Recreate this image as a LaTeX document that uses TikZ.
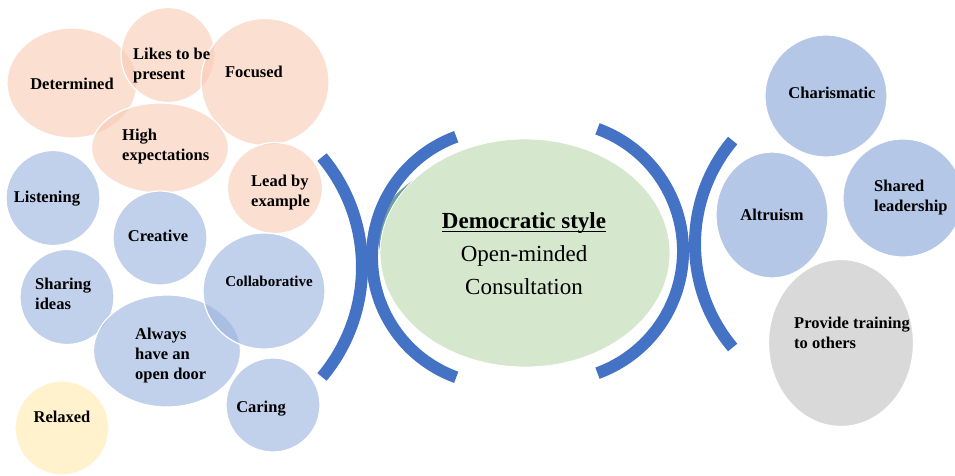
\documentclass[tikz,border=0pt]{standalone}
\usepackage{fontspec}
\setmainfont{Liberation Serif}
\usetikzlibrary{shapes.geometric}
\definecolor{peachb}{RGB}{248,203,180}
\definecolor{blueb}{RGB}{152,177,222}
\definecolor{blueR}{RGB}{130,162,215}
\definecolor{yellowb}{RGB}{255,233,170}
\definecolor{grayb}{RGB}{192,192,192}
\definecolor{greenc}{RGB}{213,231,204}
\definecolor{tealc}{RGB}{110,160,160}
\definecolor{arcblue}{RGB}{68,114,196}
\newlength\myulw
\newcommand\myul[1]{\settowidth\myulw{#1}\rlap{\rule[-3pt]{\myulw}{1.3pt}}#1}
\tikzset{
  bub/.style={ellipse, draw=white, line width=1.2pt, fill opacity=0.6, draw opacity=1, inner sep=0pt},
  lbl/.style={inner sep=0pt, font=\fontsize{16.5}{20}\selectfont\bfseries, text=black},
  lbll/.style={lbl, anchor=west, align=left},
  arcline/.style={line width=12pt, draw=arcblue},
}
\begin{document}
\begin{tikzpicture}[x=1pt,y=-1pt]
\useasboundingbox (0,0) rectangle (955,475);
% left cluster (peach)
\node[bub, fill=peachb, minimum width=130pt, minimum height=110pt] (determined) at (72,83) {};
\node[bub, fill=peachb, minimum width=94pt, minimum height=95pt] (likes) at (168,55) {};
\node[bub, fill=peachb, minimum width=128pt, minimum height=127pt] (focused) at (265,82) {};
\node[bub, fill=peachb, minimum width=137pt, minimum height=90pt] (high) at (160,148) {};
\node[bub, fill=peachb, minimum width=95pt, minimum height=91pt] (lead) at (275,188) {};
% left cluster (blue)
\node[bub, fill=blueb, minimum width=94pt, minimum height=95pt] (listening) at (53,198) {};
\node[bub, fill=blueb, minimum width=94pt, minimum height=94pt] (creative) at (160,238) {};
\node[bub, fill=blueb, minimum width=94pt, minimum height=95pt] (sharing) at (67,297) {};
\node[bub, fill=blueb, minimum width=147pt, minimum height=112pt] (always) at (167,351) {};
\node[bub, fill=blueb, minimum width=122pt, minimum height=116pt] (collab) at (264,291) {};
\node[bub, fill=blueb, minimum width=94pt, minimum height=94pt] (caring) at (273,405) {};
\node[bub, fill=yellowb, minimum width=94pt, minimum height=94pt] (relaxed) at (62,428) {};
% centre
\node[ellipse, fill=tealc, inner sep=0pt, minimum width=286pt, minimum height=170pt] (shade) at (521,236) {};
\node[ellipse, fill=greenc, draw=white, line width=0.8pt, inner sep=0pt, minimum width=290pt, minimum height=228pt] (centre) at (525,253) {};
% right cluster
\node[bub, fill=blueR, minimum width=122pt, minimum height=122pt] (charis) at (826,96) {};
\node[bub, fill=blueR, minimum width=112pt, minimum height=126pt] (altru) at (772,215) {};
\node[bub, fill=blueR, minimum width=120pt, minimum height=118pt] (shared) at (903,198) {};
\node[bub, fill=grayb, minimum width=145pt, minimum height=167pt] (provide) at (841,343) {};
% arcs
\coordinate (c1) at (191,267);
\coordinate (c2) at (500,257);
\coordinate (c3) at (553,251);
\coordinate (c4) at (856,244);
\draw[arcline] (c1) ++(-40:171) arc[start angle=-40, end angle=40, radius=171];
\draw[arcline] (c2) ++(110:128) arc[start angle=110, end angle=250, radius=128];
\draw[arcline] (c3) ++(-70:130) arc[start angle=-70, end angle=70, radius=130];
\draw[arcline] (c4) ++(140:161) arc[start angle=140, end angle=220, radius=161];
% labels
\node[lbl] (t-determined) at (72,84) {Determined};
\node[lbll] (t-likes) at (133,65.5) {Likes to be\\present};
\node[lbl] (t-focused) at (254,72) {Focused};
\node[lbll] (t-high) at (122,147) {High\\expectations};
\node[lbll] (t-lead) at (251,193) {Lead by\\example};
\node[lbl] (t-listening) at (47,199) {Listening};
\node[lbl] (t-creative) at (158,236) {Creative};
\node[lbll] (t-sharing) at (35,294) {Sharing\\ideas};
\node[lbl, font=\fontsize{15}{18}\selectfont\bfseries] (t-collab) at (269,281) {Collaborative};
\node[lbll] (t-always) at (135,356) {Always\\have an\\open door};
\node[lbl] (t-caring) at (261,409) {Caring};
\node[lbl] (t-relaxed) at (62,417) {Relaxed};
\node[inner sep=0pt, align=center, font=\fontsize{23}{33}\selectfont] (t-centre) at (524,254)
  {\textbf{\myul{Democratic style}}\\Open-minded\\Consultation};
\node[lbl] (t-charis) at (832,93) {Charismatic};
\node[lbl] (t-altru) at (772,215) {Altruism};
\node[lbll] (t-shared) at (874,198) {Shared\\leadership};
\node[lbll] (t-provide) at (794,333) {Provide training\\to others};
\end{tikzpicture}
\end{document}
